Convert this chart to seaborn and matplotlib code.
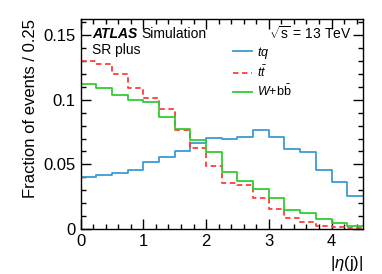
import pandas as pd
import seaborn as sns
from matplotlib import pyplot as plt
from matplotlib.ticker import MultipleLocator
from matplotlib.lines import Line2D

# bin edges of |eta(j)|, width 0.25
edges = [i * 0.25 for i in range(19)]
centers = [e + 0.125 for e in edges[:-1]]

tq = [0.0404, 0.0417, 0.0433, 0.0458, 0.0520, 0.0554, 0.0603, 0.0665, 0.0703,
      0.0693, 0.0713, 0.0763, 0.0711, 0.0616, 0.0595, 0.0458, 0.0366, 0.0255]
ttbar = [0.1300, 0.1280, 0.1198, 0.1092, 0.1015, 0.0930, 0.0765, 0.0624, 0.0487,
         0.0353, 0.0343, 0.0242, 0.0152, 0.0083, 0.0054, 0.0026, 0.0013, 0.0005]
wbb = [0.1118, 0.1087, 0.1036, 0.1000, 0.0980, 0.0868, 0.0775, 0.0690, 0.0598,
       0.0443, 0.0373, 0.0312, 0.0242, 0.0147, 0.0126, 0.0080, 0.0049, 0.0023]

labels = [r"$tq$", r"$t\bar{t}$", r"$W$+b$\bar{\rm b}$"]
colors = ["#3b9bd3", "#ff3b3b", "#33cc33"]
styles = ["-", (0, (3, 2)), "-"]

plt.rcParams.update({
    "font.family": ["Liberation Sans", "DejaVu Sans"],
    "mathtext.fontset": "custom",
    "mathtext.rm": "Liberation Sans",
    "mathtext.it": "Liberation Sans:italic",
    "xtick.direction": "in", "ytick.direction": "in",
    "xtick.top": True, "ytick.right": True,
    "xtick.major.size": 7, "ytick.major.size": 7,
    "xtick.minor.size": 3.5, "ytick.minor.size": 3.5,
    "xtick.major.width": 1, "ytick.major.width": 1,
    "xtick.minor.width": 1, "ytick.minor.width": 1,
    "axes.linewidth": 1.0,
})

fig = plt.figure(figsize=(3.82, 2.74), dpi=100)
ax = fig.add_axes([0.211, 0.164, 0.739, 0.767])

for vals, c, ls in zip([tq, ttbar, wbb], colors, styles):
    df = pd.DataFrame({"x": centers, "w": vals})
    sns.histplot(df, x="x", weights="w", bins=edges, element="step",
                 fill=False, color=c, linestyle=ls, linewidth=1.3, ax=ax)

ax.set_xlim(0, 4.5)
ax.set_ylim(0, 0.1625)
ax.xaxis.set_major_locator(MultipleLocator(1))
ax.xaxis.set_minor_locator(MultipleLocator(0.2))
ax.yaxis.set_major_locator(MultipleLocator(0.05))
ax.yaxis.set_minor_locator(MultipleLocator(0.01))
ax.set_yticks([0, 0.05, 0.1, 0.15], ["0", "0.05", "0.1", "0.15"])
ax.tick_params(which="both", direction="in", top=True, right=True,
               bottom=True, left=True, labelsize=12)

ax.set_xlabel(r"|$\eta$(j)|", fontsize=12, loc="right")
ax.set_ylabel("Fraction of events / 0.25", fontsize=12, loc="top")

ax.text(0.04, 0.93, "ATLAS", transform=ax.transAxes, fontsize=10,
        fontweight="bold", fontstyle="italic", va="center")
ax.text(0.215, 0.93, "Simulation", transform=ax.transAxes, fontsize=10, va="center")
ax.text(0.04, 0.85, "SR plus", transform=ax.transAxes, fontsize=10, va="center")
ax.text(0.96, 0.93, r"$\sqrt{\rm s}$ = 13 TeV", transform=ax.transAxes,
        fontsize=10, va="center", ha="right")

handles = [Line2D([], [], color=c, ls=ls, lw=1.3) for c, ls in zip(colors, styles)]
ax.legend(handles, labels, loc="upper left", bbox_to_anchor=(0.5, 0.93),
          frameon=False, fontsize=9, handlelength=1.5, handletextpad=0.4,
          labelspacing=0.3)

fig.savefig("out.png", dpi=100)
